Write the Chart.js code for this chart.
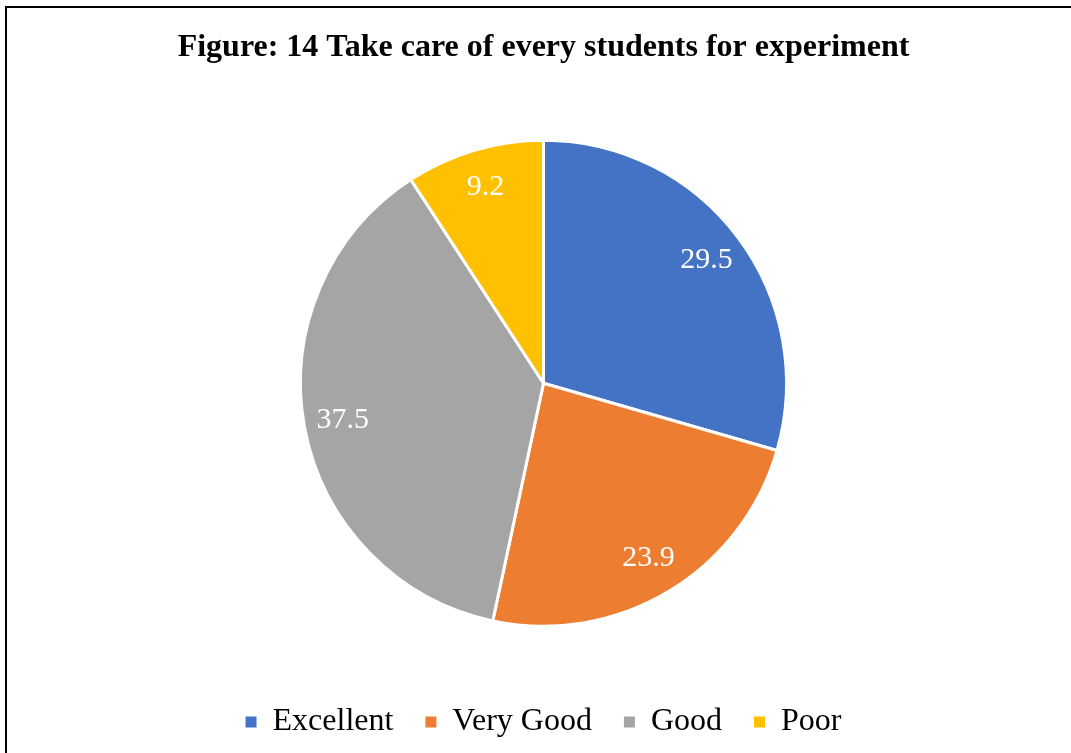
<!DOCTYPE html>
<html><head><meta charset="utf-8">
<script src="https://cdn.jsdelivr.net/npm/chart.js@4/dist/chart.umd.min.js"></script>
<style>
html,body{margin:0;padding:0;background:#fff;}
#wrap{position:relative;width:1071px;height:753px;overflow:hidden;}
#frame{position:absolute;left:5px;top:6px;width:1200px;height:900px;border-left:2px solid #000;border-top:2px solid #000;}
canvas{position:absolute;left:0;top:0;}
</style></head>
<body><div id="wrap"><div id="frame"></div><canvas id="c" width="1071" height="753"></canvas></div>
<script>
const categories = ["Excellent", "Very Good", "Good", "Poor"];
const values = [29.5, 23.9, 37.5, 9.2];
const colors = ["#4472C4", "#ED7D31", "#A5A5A5", "#FFC000"];
const titleText = "Figure: 14 Take care of every students for experiment";

const labelPlugin = {
  id: 'sliceLabels',
  afterDatasetsDraw(chart) {
    const ctx = chart.ctx;
    const meta = chart.getDatasetMeta(0);
    ctx.save();
    ctx.fillStyle = '#fff';
    ctx.font = '30px "Liberation Serif", "Times New Roman", serif';
    ctx.textAlign = 'center';
    ctx.textBaseline = 'middle';
    meta.data.forEach((arc, i) => {
      const mid = (arc.startAngle + arc.endAngle) / 2;
      const r = arc.outerRadius * 0.84;
      ctx.fillText(String(values[i]), arc.x + Math.cos(mid) * r, arc.y + Math.sin(mid) * r);
    });
    ctx.restore();
  }
};

const defaultLabels = Chart.controllers.pie.overrides.plugins.legend.labels.generateLabels;

new Chart(document.getElementById('c'), {
  type: 'pie',
  data: {
    labels: categories,
    datasets: [{ data: values, backgroundColor: colors, borderColor: '#fff', borderWidth: 3, radius: 243 }]
  },
  options: {
    responsive: false,
    animation: false,
    layout: { padding: { top: 0, bottom: 5, left: 16, right: 0 } },
    plugins: {
      title: {
        display: true, text: titleText, color: '#000',
        font: { family: '"Liberation Serif", "Times New Roman", serif', size: 32, weight: 'bold' },
        padding: { top: 29, bottom: 25 }
      },
      legend: {
        position: 'bottom',
        labels: {
          color: '#000',
          font: { family: '"Liberation Serif", "Times New Roman", serif', size: 32 },
          boxWidth: 11, boxHeight: 11, padding: 32,
          generateLabels(chart) {
            return defaultLabels(chart).map(l => Object.assign(l, { lineWidth: 0, strokeStyle: 'rgba(0,0,0,0)' }));
          }
        }
      },
      tooltip: { enabled: false }
    }
  },
  plugins: [labelPlugin]
});
</script></body></html>
